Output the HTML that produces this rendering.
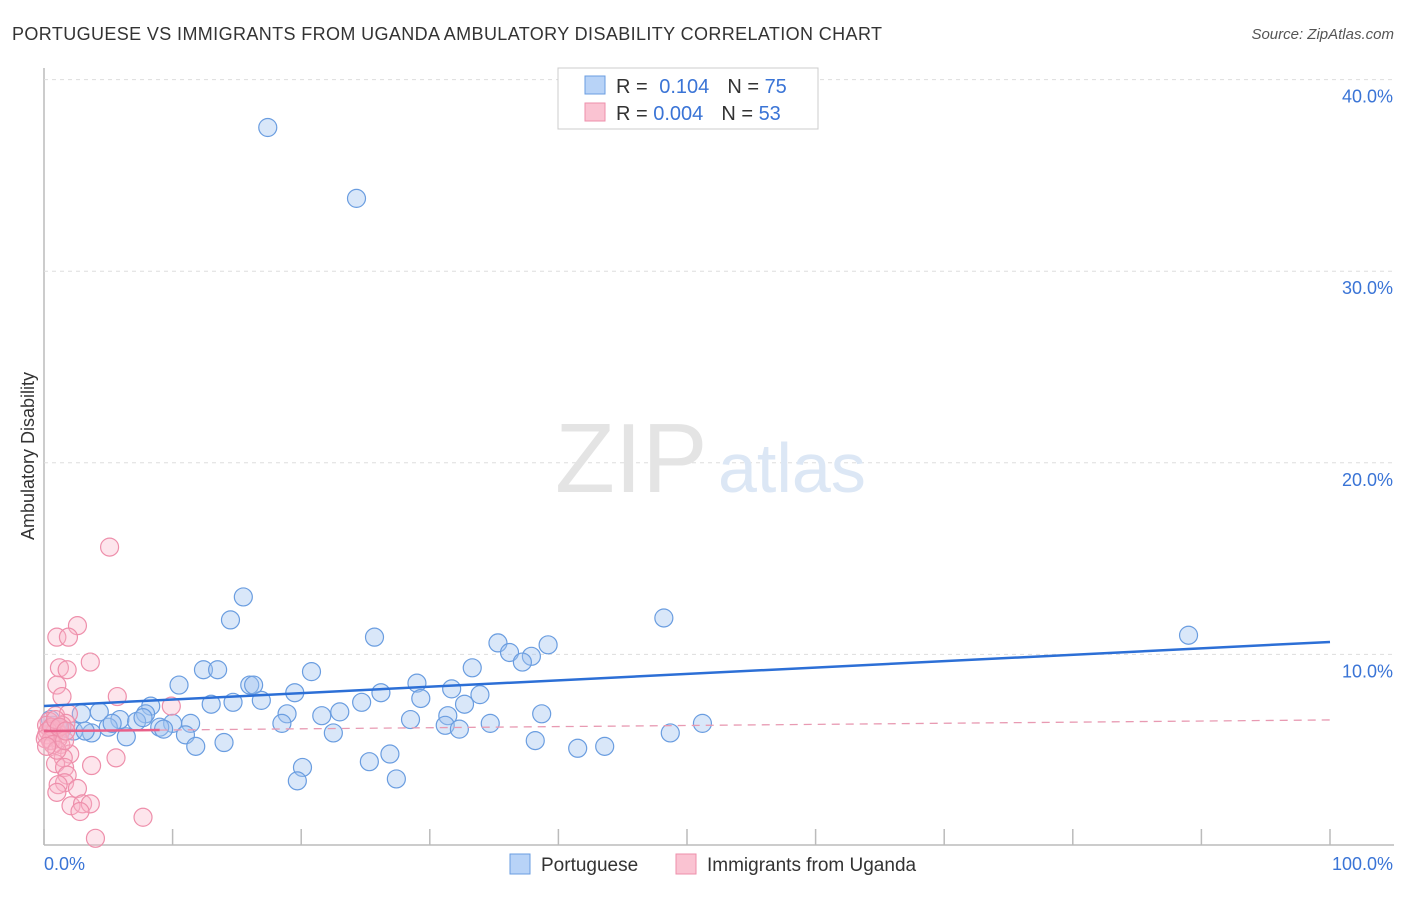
<!DOCTYPE html>
<html><head><meta charset="utf-8"><style>
body{margin:0;background:#fff;font-family:"Liberation Sans",sans-serif;}
svg text{font-family:"Liberation Sans",sans-serif;}
</style></head><body>
<svg width="1406" height="892" viewBox="0 0 1406 892">
<text x="12" y="40" font-size="18" fill="#333" textLength="870">PORTUGUESE VS IMMIGRANTS FROM UGANDA AMBULATORY DISABILITY CORRELATION CHART</text>
<text x="1394" y="39" font-size="15" fill="#555" font-style="italic" text-anchor="end">Source: ZipAtlas.com</text>
<g id="grid"></g>
<text x="555" y="492" font-size="98" fill="#e4e4e4" font-family="Liberation Serif">ZIP</text>
<text x="718" y="492" font-size="70" fill="#dce7f5">atlas</text>
<text transform="translate(34,456) rotate(-90)" font-size="18" fill="#333" text-anchor="middle">Ambulatory Disability</text>
<g id="pts"></g>
<g id="lines"></g>
<g>
<rect x="558" y="68" width="260" height="61" fill="#fff" stroke="#ccc"/>
<rect x="585" y="76" width="20" height="18" fill="#b8d3f7" stroke="#6a9de0"/>
<rect x="585" y="103" width="20" height="18" fill="#fac3d2" stroke="#ee8fab"/>
<text x="616" y="93" font-size="20" fill="#333">R = <tspan fill="#3a74d6" dx="6">0.104</tspan><tspan dx="18" fill="#333">N = </tspan><tspan fill="#3a74d6">75</tspan></text>
<text x="616" y="120" font-size="20" fill="#333">R = <tspan fill="#3a74d6">0.004</tspan><tspan dx="18" fill="#333">N = </tspan><tspan fill="#3a74d6">53</tspan></text>
</g>
<text x="44" y="870" font-size="18" fill="#3a74d6">0.0%</text>
<text x="1393" y="870" font-size="18" fill="#3a74d6" text-anchor="end">100.0%</text>
<rect x="510" y="854" width="20" height="20" fill="#b8d3f7" stroke="#6a9de0"/>
<text x="541" y="871" font-size="19" fill="#333">Portuguese</text>
<rect x="676" y="854" width="20" height="20" fill="#fac3d2" stroke="#ee8fab"/>
<text x="707" y="871" font-size="19" fill="#333">Immigrants from Uganda</text>
</svg>
<script>
const yTicks=[10,20,30,40];
const yTickLabels=["10.0%","20.0%","30.0%","40.0%"];
const xTicks=[0,10,20,30,40,50,60,70,80,90,100];
const blueX=[17.4,24.3,15.5,14.5,25.7,35.3,39.2,36.2,37.9,37.2,33.3,48.2,89.0,20.8,12.4,13.5,10.5,16.0,16.3,29.0,31.7,26.2,19.5,33.9,29.3,8.3,13.0,14.7,16.9,24.7,32.7,38.7,4.3,2.9,7.9,18.9,21.6,23.0,28.5,31.4,34.7,31.2,32.3,5.9,7.2,10.0,9.0,11.4,18.5,1.4,2.3,3.7,5.0,0.7,9.3,11.0,22.5,6.4,11.8,14.0,38.2,48.7,51.2,41.5,43.6,26.9,25.3,20.1,19.7,27.4,0.5,1.1,3.2,5.3,7.7];
const blueY=[37.5,33.8,13.0,11.8,10.9,10.6,10.5,10.1,9.9,9.6,9.3,11.9,11.0,9.1,9.2,9.2,8.4,8.4,8.4,8.5,8.2,8.0,8.0,7.9,7.7,7.3,7.4,7.5,7.6,7.5,7.4,6.9,7.0,6.9,6.9,6.9,6.8,7.0,6.6,6.8,6.4,6.3,6.1,6.6,6.5,6.4,6.2,6.4,6.4,6.1,6.0,5.9,6.2,6.3,6.1,5.8,5.9,5.7,5.2,5.4,5.5,5.9,6.4,5.1,5.2,4.8,4.4,4.1,3.4,3.5,6.6,6.2,6.0,6.4,6.7];
const pinkX=[5.1,2.6,1.0,1.9,3.6,1.2,1.8,1.0,1.4,5.7,9.9,0.9,1.9,0.4,1.7,0.9,0.2,0.6,1.2,1.3,2.0,1.5,0.9,3.7,5.6,1.6,1.8,1.6,1.1,2.6,1.0,2.1,3.0,3.6,2.8,7.7,4.0,0.5,0.8,1.1,0.2,1.4,0.3,0.6,0.9,0.5,0.1,1.2,0.7,1.0,0.2,1.6,1.7];
const pinkY=[15.6,11.5,10.9,10.9,9.6,9.3,9.2,8.4,7.8,7.8,7.3,6.8,6.9,6.5,6.4,6.1,5.8,5.5,5.8,5.3,4.8,4.6,4.3,4.2,4.6,4.1,3.7,3.3,3.2,3.0,2.8,2.1,2.2,2.2,1.8,1.5,0.4,6.1,5.9,5.6,6.3,6.3,6.0,6.2,6.6,5.5,5.6,6.2,5.3,5.0,5.2,5.5,6.0];
const blueTrend=[7.31,10.65];
const pinkTrend=[6.0,6.58];
const pinkSolidEnd=9;
const NS="http://www.w3.org/2000/svg";
function sx(v){return 44+v*12.86;}
function sy(v){return 846-v*19.16;}
function mk(t,a,p){const e=document.createElementNS(NS,t);for(const k in a)e.setAttribute(k,a[k]);p.appendChild(e);return e;}
const grid=document.getElementById('grid');
let ax=mk('line',{x1:44,y1:68,x2:44,y2:845,stroke:'#bbb','stroke-width':1.5},grid);


let bx=mk('line',{x1:44,y1:845,x2:1394,y2:845,stroke:'#bbb','stroke-width':1.5},grid);


yTicks.forEach((v,i)=>{
 const g=mk('line',{x1:44,y1:sy(v),x2:1394,y2:sy(v),stroke:'#ddd','stroke-dasharray':'4,4'},grid);
 
 
 const t=mk('text',{x:1393,y:sy(v)+23,'font-size':18,fill:'#3a74d6','text-anchor':'end'},grid);
 t.textContent=yTickLabels[i];
 
 
});
xTicks.forEach(v=>{
 const t=mk('line',{x1:sx(v),y1:829,x2:sx(v),y2:845,stroke:'#bbb','stroke-width':1.5},grid);
 
 
});
const pts=document.getElementById('pts');
blueX.forEach((x,i)=>{
 const c=mk('circle',{cx:sx(x),cy:sy(blueY[i]),r:9,fill:'rgba(160,196,240,0.4)',stroke:'#6a9de0','stroke-width':1.2},pts);
 
 
});
pinkX.forEach((x,i)=>{
 const c=mk('circle',{cx:sx(x),cy:sy(pinkY[i]),r:9,fill:'rgba(248,180,200,0.35)',stroke:'#ee8fab','stroke-width':1.2},pts);
 
 
});
const ln=document.getElementById('lines');
let bl=mk('line',{x1:sx(0),y1:sy(blueTrend[0]),x2:sx(100),y2:sy(blueTrend[1]),stroke:'#2c6fd6','stroke-width':2.5},ln);


function py(v){return pinkTrend[0]+(pinkTrend[1]-pinkTrend[0])*v/100;}
let pl=mk('line',{x1:sx(0),y1:sy(py(0)),x2:sx(pinkSolidEnd),y2:sy(py(pinkSolidEnd)),stroke:'#e8608a','stroke-width':2.5},ln);


let pd=mk('line',{x1:sx(pinkSolidEnd),y1:sy(py(pinkSolidEnd)),x2:sx(100),y2:sy(py(100)),stroke:'#e89ab2','stroke-width':1.3,'stroke-dasharray':'8,6'},ln);


</script>
</body></html>
